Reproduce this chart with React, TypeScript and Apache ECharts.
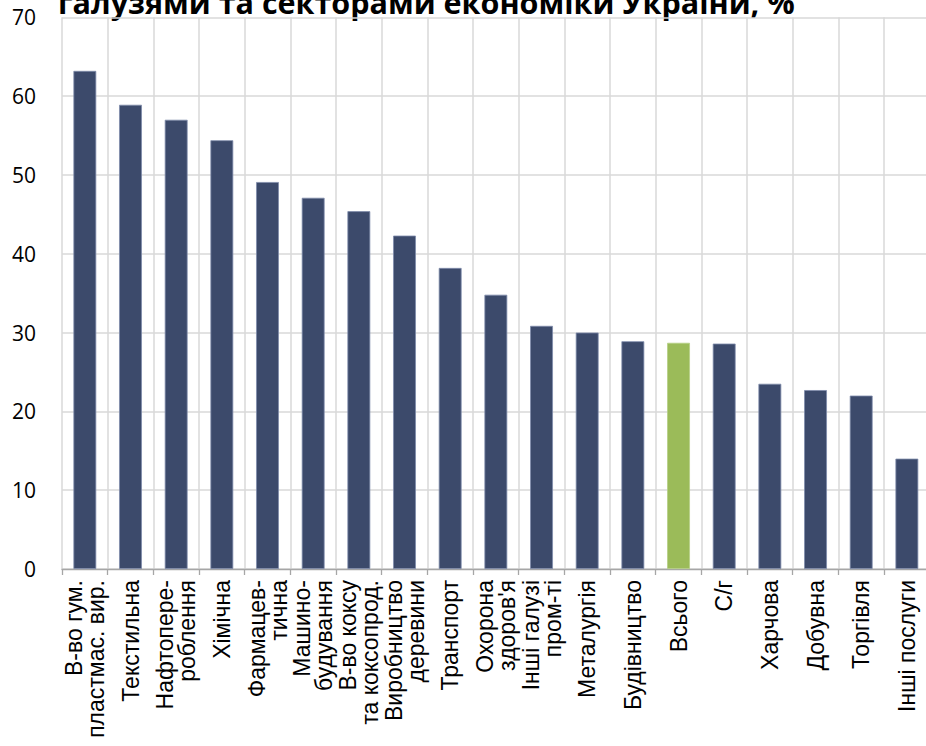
import React, { useEffect, useRef } from "react";
import * as echarts from "echarts";

const categories: string[] = [
  "В-во гум.\nпластмас. вир.",
  "Текстильна",
  "Нафтопере-\nроблення",
  "Хімічна",
  "Фармацев-\nтична",
  "Машино-\nбудування",
  "В-во коксу\nта коксопрод.",
  "Виробництво\nдеревини",
  "Транспорт",
  "Охорона\nздоров'я",
  "Інші галузі\nпром-ті",
  "Металургія",
  "Будівництво",
  "Всього",
  "С/г",
  "Харчова",
  "Добувна",
  "Торгівля",
  "Інші послуги",
];

const values: number[] = [
  63.2, 58.9, 57.0, 54.4, 49.1, 47.1, 45.4, 42.3, 38.2, 34.8, 30.85, 30.0, 28.9, 28.7, 28.6, 23.5,
  22.7, 22.0, 14.0,
];

const highlightCategory = "Всього";
const yTicks = { min: 0, max: 70, interval: 10 };
const titleText = "галузями та секторами економіки України, %";

const BAR = "#3c4a6b";
const GREEN = "#9bbb59";

export default function App() {
  const ref = useRef<HTMLDivElement>(null);
  useEffect(() => {
    if (!ref.current) return;
    const chart = echarts.init(ref.current, null, { renderer: "svg" });
    chart.setOption({
      animation: false,
      backgroundColor: "#ffffff",
      graphic: [
        {
          type: "text",
          left: 58,
          top: -14,
          style: {
            text: titleText,
            fontFamily: "Open Sans",
            fontWeight: "bold",
            fontSize: 30.5,
            fill: "#000",
          },
        },
      ],
      grid: { left: 62, top: 17.3, right: 10.3, bottom: 177, containLabel: false },
      xAxis: {
        type: "category",
        data: categories,
        boundaryGap: true,
        axisLine: { show: true, lineStyle: { color: "#a6a6a6", width: 1.3 } },
        axisTick: { show: true, length: 6, lineStyle: { color: "#a6a6a6", width: 1.3 } },
        splitLine: { show: true, lineStyle: { color: "#d9d9d9", width: 1.5 } },
        axisLabel: {
          interval: 0,
          rotate: 90,
          margin: 11,
          fontSize: 23,
          lineHeight: 22,
          fontFamily: "Liberation Sans",
          color: "#000",
        },
      },
      yAxis: {
        type: "value",
        min: yTicks.min,
        max: yTicks.max,
        interval: yTicks.interval,
        axisLine: { show: false },
        axisTick: { show: false },
        splitLine: { show: true, lineStyle: { color: "#d9d9d9", width: 1.5 } },
        axisLabel: {
          fontSize: 21,
          fontFamily: "Open Sans",
          color: "#000",
          margin: 26,
        },
      },
      series: [
        {
          type: "bar",
          barWidth: "50%",
          data: values.map((v, i) => ({
            value: v,
            itemStyle: {
              color: categories[i] === highlightCategory ? GREEN : BAR,
              borderColor: categories[i] === highlightCategory ? "#b5cf85" : "#7f8bab",
              borderWidth: 0.8,
            },
          })),
        },
      ],
    });
    return () => chart.dispose();
  }, []);
  return (
    <div
      style={{
        position: "fixed",
        left: 0,
        top: 0,
        width: 926,
        height: 746,
        overflow: "hidden",
        background: "#fff",
      }}
    >
      <div ref={ref} style={{ width: 940, height: 746 }} />
    </div>
  );
}
